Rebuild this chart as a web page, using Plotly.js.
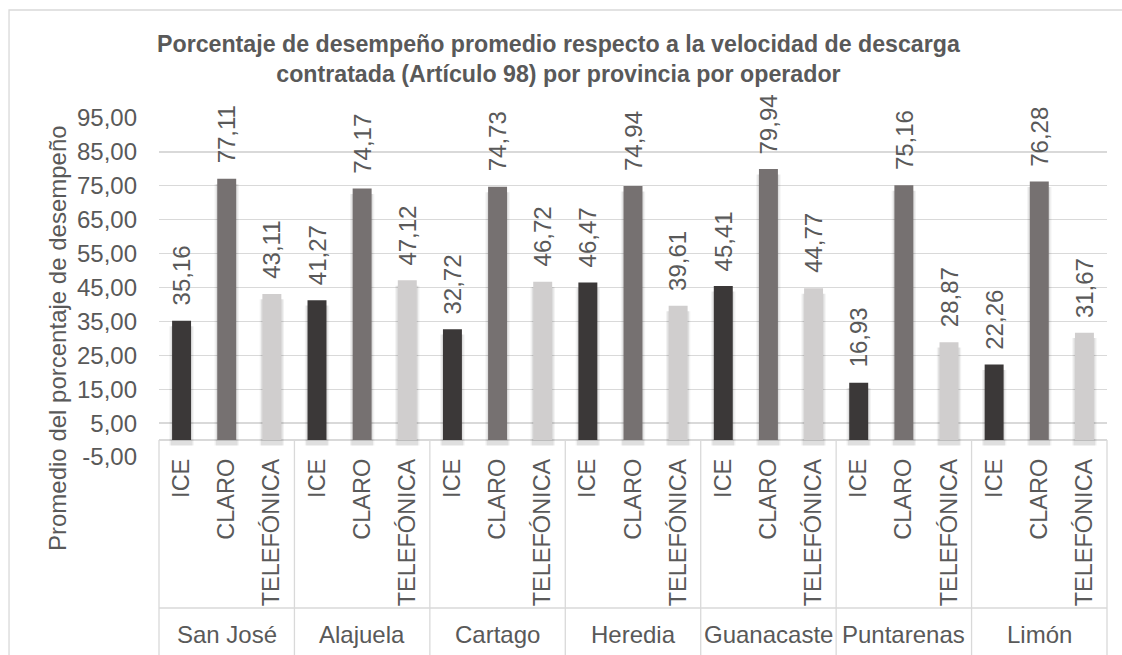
<!DOCTYPE html>
<html>
<head>
<meta charset="utf-8">
<script src="https://cdn.plot.ly/plotly-3.0.1.min.js"></script>
<style>
  html, body { margin: 0; padding: 0; background: #fff; }
  #chart { width: 1122px; height: 655px; }
</style>
</head>
<body>
<div id="chart"></div>
<script>
// ---- Data ----
const provinces = ['San José', 'Alajuela', 'Cartago', 'Heredia', 'Guanacaste', 'Puntarenas', 'Limón'];
const operators = ['ICE', 'CLARO', 'TELEFÓNICA'];
const iceValues = [35.16, 41.27, 32.72, 46.47, 45.41, 16.93, 22.26];
const claroValues = [77.11, 74.17, 74.73, 74.94, 79.94, 75.16, 76.28];
const telefonicaValues = [43.11, 47.12, 46.72, 39.61, 44.77, 28.87, 31.67];
const yTickValues = [-5, 5, 15, 25, 35, 45, 55, 65, 75, 85, 95];

const titleText = 'Porcentaje de desempeño promedio respecto a la velocidad de descarga<br>contratada (Artículo 98) por provincia por operador';
const yTitleText = 'Promedio del porcentaje de desempeño';

// ---- Styles ----
const FONT = '"Liberation Sans", Arial, sans-serif';
const TXT = '#595959';
const GRID = '#d9d9d9';
const colors = ['#3b3838', '#767171', '#d0cece'];
const seriesValues = [iceValues, claroValues, telefonicaValues];
const FS = 24;

const nGroups = provinces.length;
const nOps = operators.length;
const nSlots = nGroups * nOps;
const fmt = v => v.toFixed(2).replace('.', ',');

const traces = [];
const annotations = [];

// shadow traces
seriesValues.forEach((vals, oi) => {
  const xs = vals.map((_, gi) => gi * nOps + oi);
  [[0.54, 0.05], [0.48, 0.08]].forEach(([w, a]) => {
    traces.push({
      type: 'bar', x: xs, y: vals, base: -1.6, width: w,
      marker: { color: 'rgba(0,0,0,' + a + ')', line: { width: 0 } },
      hoverinfo: 'skip', showlegend: false
    });
  });
});

seriesValues.forEach((vals, oi) => {
  const xs = vals.map((_, gi) => gi * nOps + oi);
  traces.push({
    type: 'bar', name: operators[oi], x: xs, y: vals, width: 0.42,
    marker: { color: colors[oi], line: { width: 0 } },
    showlegend: false
  });
  vals.forEach((v, gi) => {
    annotations.push({
      xref: 'x', yref: 'y', x: gi * nOps + oi, y: v,
      text: fmt(v), textangle: -90, showarrow: false,
      xanchor: 'center', yanchor: 'bottom', yshift: 13,
      font: { family: FONT, size: FS, color: TXT }
    });
  });
});

// province labels
provinces.forEach((p, gi) => {
  annotations.push({
    xref: 'x', yref: 'paper', x: gi * nOps + 1, y: -0.525,
    text: p, showarrow: false, xanchor: 'center', yanchor: 'middle',
    font: { family: FONT, size: FS, color: TXT }
  });
});

// chart title
annotations.push({
  xref: 'paper', yref: 'paper', x: (559 - 159) / 948, y: (457 - 29) / 339,
  xanchor: 'center', yanchor: 'top', showarrow: false,
  text: '<b>' + titleText + '</b>',
  font: { family: FONT, size: 23.2, color: TXT }
});

// y axis title
annotations.push({
  xref: 'paper', yref: 'paper', x: (57 - 159) / 948, y: (457 - 338) / 339,
  xanchor: 'center', yanchor: 'middle', showarrow: false, textangle: -90,
  text: yTitleText,
  font: { family: FONT, size: FS, color: TXT }
});

// tick text for categories
const xTickVals = [];
const xTickText = [];
for (let gi = 0; gi < nGroups; gi++) {
  for (let oi = 0; oi < nOps; oi++) {
    xTickVals.push(gi * nOps + oi);
    xTickText.push(operators[oi]);
  }
}

// separator shapes (paper coordinates)
const yZeroPaper = 5 / 100;
const shapes = [];
for (let k = 0; k <= nGroups; k++) {
  const xp = (k * nOps) / nSlots;
  shapes.push({
    type: 'line', xref: 'paper', yref: 'paper',
    x0: xp, x1: xp, y0: yZeroPaper, y1: -0.62,
    line: { color: GRID, width: 1.3 }
  });
}
shapes.push({
  type: 'line', xref: 'paper', yref: 'paper',
  x0: 0, x1: 1, y0: -0.4454, y1: -0.4454,
  line: { color: GRID, width: 1.3 }
});
// outer chart border
shapes.push({
  type: 'rect', xref: 'paper', yref: 'paper',
  x0: -0.1582, x1: 1.03, y0: -0.7, y1: 1.3186,
  line: { color: GRID, width: 1.3 }
});

const layout = {
  width: 1122, height: 655,
  margin: { l: 159, r: 15, t: 118, b: 198 },
  paper_bgcolor: '#ffffff', plot_bgcolor: '#ffffff',
  barmode: 'overlay',
  font: { family: FONT, color: TXT, size: FS },
  xaxis: {
    range: [-0.5, nSlots - 0.5],
    tickmode: 'array', tickvals: xTickVals, ticktext: xTickText,
    tickangle: -90, ticks: '', ticklabelstandoff: -4,
    showgrid: false, zeroline: false, showline: false,
    tickfont: { family: FONT, size: 23.5, color: TXT },
    fixedrange: true
  },
  yaxis: {
    range: [-5, 95],
    tickmode: 'array', tickvals: yTickValues, ticktext: yTickValues.map(fmt),
    ticks: '', ticklabelstandoff: 21,
    showgrid: true, gridcolor: GRID, gridwidth: 1.3,
    zeroline: true, zerolinecolor: GRID, zerolinewidth: 1.3,
    showline: false,
    tickfont: { family: FONT, size: FS, color: TXT },
    fixedrange: true
  },
  shapes: shapes,
  annotations: annotations
};

Plotly.newPlot('chart', traces, layout, { staticPlot: true, displayModeBar: false });
</script>
</body>
</html>
